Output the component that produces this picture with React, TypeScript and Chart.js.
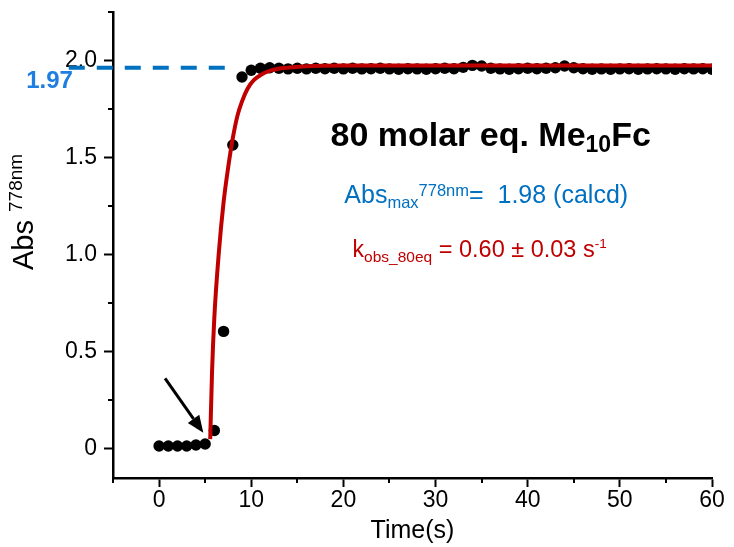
import { useEffect, useRef } from 'react';
import { Chart, registerables } from 'chart.js';

Chart.register(...registerables);

// ---- data ----
const times = [
  0, 1, 2, 3, 4, 5, 6, 7, 8, 9, 10, 11, 12, 13, 14, 15, 16, 17, 18, 19, 20,
  21, 22, 23, 24, 25, 26, 27, 28, 29, 30, 31, 32, 33, 34, 35, 36, 37, 38, 39, 40,
  41, 42, 43, 44, 45, 46, 47, 48, 49, 50, 51, 52, 53, 54, 55, 56, 57, 58, 59, 60,
];
const absValues = [
  0.015, 0.015, 0.015, 0.015, 0.02, 0.025, 0.095, 0.605, 1.565, 1.915, 1.95,
  1.96, 1.963, 1.96, 1.957, 1.96, 1.957, 1.96, 1.958, 1.96, 1.957,
  1.96, 1.957, 1.958, 1.96, 1.957, 1.955, 1.958, 1.957, 1.955, 1.958,
  1.96, 1.958, 1.965, 1.975, 1.972, 1.96, 1.957, 1.955, 1.958, 1.96,
  1.958, 1.96, 1.963, 1.972, 1.963, 1.958, 1.955, 1.957, 1.955, 1.957,
  1.958, 1.955, 1.957, 1.958, 1.957, 1.955, 1.958, 1.957, 1.958, 1.955,
];
const fitTimes = [5.55, 5.75, 6.0, 6.5, 7.0, 7.5, 8.0, 8.5, 9.0, 9.6, 10.3, 11.1, 12.0, 13.3, 16.0, 20.0, 60.0];
const fitValues = [0.05, 0.4, 0.68, 1.02, 1.27, 1.45, 1.6, 1.715, 1.79, 1.855, 1.9, 1.928, 1.947, 1.96, 1.971, 1.974, 1.974];
const refLevel = 1.963;
const refLineX = [-9.8, 8.0];
const refLabel = '1.97';
const xTickValues = [0, 10, 20, 30, 40, 50, 60];
const xMinorTicks = [-5, 5, 15, 25, 35, 45, 55];
const yTickValues = [0, 0.5, 1, 1.5, 2];
const yTickLabels = ['0', '0.5', '1.0', '1.5', '2.0'];
const yMinorTicks = [0.25, 0.75, 1.25, 1.75, 2.25];
const arrowFrom = { x: 0.65, y: 0.363 };
const arrowTo = { x: 4.8, y: 0.083 };
const xTitle = 'Time(s)';

const FONT = '"Liberation Sans", Arial, sans-serif';
const RED = '#C00000';
const BLUE = '#0070C0';

type Run = { text: string; size: number; bold?: boolean; dy?: number };

function drawRuns(ctx: CanvasRenderingContext2D, x: number, y: number, runs: Run[], color: string) {
  let cx = x;
  ctx.fillStyle = color;
  ctx.textAlign = 'left';
  ctx.textBaseline = 'alphabetic';
  for (const r of runs) {
    ctx.font = `${r.bold ? 'bold ' : ''}${r.size}px ${FONT}`;
    ctx.fillText(r.text, cx, y + (r.dy || 0));
    cx += ctx.measureText(r.text).width;
  }
}

const annotationPlugin = {
  id: 'annotations',
  afterDraw(chart: any) {
    const ctx: CanvasRenderingContext2D = chart.ctx;
    const xs = chart.scales.x;
    const ys = chart.scales.y;
    ctx.save();
    // minor ticks
    ctx.strokeStyle = '#000';
    ctx.lineWidth = 2;
    for (const v of xMinorTicks) {
      const px = Math.round(xs.getPixelForValue(v));
      ctx.beginPath();
      ctx.moveTo(px, xs.top);
      ctx.lineTo(px, xs.top + 5);
      ctx.stroke();
    }
    for (const v of yMinorTicks) {
      const py = Math.round(ys.getPixelForValue(v));
      ctx.beginPath();
      ctx.moveTo(ys.right, py);
      ctx.lineTo(ys.right - 5, py);
      ctx.stroke();
    }

    // arrow
    const ax0 = xs.getPixelForValue(arrowFrom.x);
    const ay0 = ys.getPixelForValue(arrowFrom.y);
    const ax1 = xs.getPixelForValue(arrowTo.x);
    const ay1 = ys.getPixelForValue(arrowTo.y);
    const ang = Math.atan2(ay1 - ay0, ax1 - ax0);
    const headLen = 17;
    const headW = 7;
    const bx = ax1 - headLen * Math.cos(ang);
    const by = ay1 - headLen * Math.sin(ang);
    ctx.lineWidth = 3;
    ctx.beginPath();
    ctx.moveTo(ax0, ay0);
    ctx.lineTo(bx, by);
    ctx.stroke();
    ctx.fillStyle = '#000';
    ctx.beginPath();
    ctx.moveTo(ax1, ay1);
    ctx.lineTo(bx + headW * Math.sin(ang), by - headW * Math.cos(ang));
    ctx.lineTo(bx - headW * Math.sin(ang), by + headW * Math.cos(ang));
    ctx.closePath();
    ctx.fill();

    // reference label
    ctx.font = `bold 24px ${FONT}`;
    ctx.fillStyle = '#1E7FE0';
    ctx.textAlign = 'right';
    ctx.textBaseline = 'alphabetic';
    ctx.fillText(refLabel, xs.getPixelForValue(-9.35), ys.getPixelForValue(refLevel) + 20);

    // title
    drawRuns(ctx, xs.getPixelForValue(18.6), ys.getPixelForValue(1.56), [
      { text: '80 molar eq. Me', size: 34, bold: true },
      { text: '10', size: 23, bold: true, dy: 6 },
      { text: 'Fc', size: 34, bold: true },
    ], '#000');

    drawRuns(ctx, xs.getPixelForValue(20.1), ys.getPixelForValue(1.265), [
      { text: 'Abs', size: 25 },
      { text: 'max', size: 16.5, dy: 5 },
      { text: '778nm', size: 16.5, dy: -7 },
      { text: '=  1.98 (calcd)', size: 25 },
    ], BLUE);

    drawRuns(ctx, xs.getPixelForValue(21.0), ys.getPixelForValue(0.99), [
      { text: 'k', size: 23 },
      { text: 'obs_80eq', size: 15.5, dy: 5 },
      { text: ' = 0.60 \u00B1 0.03 s', size: 23.5 },
      { text: '-1', size: 13.5, dy: -9 },
    ], RED);

    // y axis title (rotated)
    ctx.translate(33, 270);
    ctx.rotate(-Math.PI / 2);
    drawRuns(ctx, 0, 0, [
      { text: 'Abs ', size: 29 },
      { text: '778nm', size: 19, dy: -11 },
    ], '#000');
    ctx.restore();
  },
};

export default function App() {
  const canvasRef = useRef<HTMLCanvasElement | null>(null);

  useEffect(() => {
    if (!canvasRef.current) return;
    Chart.defaults.font.family = FONT;
    const chart = new Chart(canvasRef.current, {
      type: 'line',
      data: {
        datasets: [
          {
            label: 'fit',
            data: fitTimes.map((t, i) => ({ x: t, y: fitValues[i] })),
            borderColor: RED,
            borderWidth: 4,
            pointRadius: 0,
            cubicInterpolationMode: 'monotone',
            fill: false,
          },
          {
            label: 'data',
            data: times.map((t, i) => ({ x: t, y: absValues[i] })),
            showLine: false,
            pointRadius: 5.7,
            pointBackgroundColor: '#000',
            pointBorderWidth: 0,
            borderColor: '#000',
          },
          {
            label: 'ref',
            data: refLineX.map((t) => ({ x: t, y: refLevel })),
            borderColor: BLUE,
            borderWidth: 4,
            borderDash: [16, 12],
            pointRadius: 0,
            clip: false,
          } as any,
        ],
      },
      options: {
        animation: false,
        responsive: false,
        devicePixelRatio: 1,
        layout: { padding: { left: 0, right: 22, top: 12, bottom: 0 } },
        plugins: { legend: { display: false }, tooltip: { enabled: false } },
        scales: {
          x: {
            type: 'linear',
            min: -5,
            max: 60,
            afterBuildTicks: (axis: any) => {
              axis.ticks = xTickValues.map((v) => ({ value: v }));
            },
            afterFit: (axis: any) => {
              axis.height = 69;
              axis.paddingLeft = 0;
              axis.paddingRight = 0;
              axis.paddingTop = 0;
              axis.paddingBottom = 0;
            },
            grid: { drawOnChartArea: false, drawTicks: true, tickLength: 9, tickWidth: 2, tickColor: '#000' },
            border: { color: '#000', width: 2.5 },
            ticks: { color: '#000', font: { size: 23, family: FONT }, padding: 0, maxRotation: 0 },
            title: { display: true, text: xTitle, color: '#000', font: { size: 25, family: FONT }, padding: { top: 0, bottom: 1 } },
          },
          y: {
            type: 'linear',
            min: -0.15,
            max: 2.25,
            afterBuildTicks: (axis: any) => {
              axis.ticks = yTickValues.map((v) => ({ value: v }));
            },
            afterFit: (axis: any) => {
              axis.width = 113;
              axis.paddingLeft = 0;
              axis.paddingRight = 0;
              axis.paddingTop = 0;
              axis.paddingBottom = 0;
            },
            grid: { drawOnChartArea: false, drawTicks: true, tickLength: 9, tickWidth: 2, tickColor: '#000' },
            border: { color: '#000', width: 2.5 },
            ticks: {
              color: '#000',
              font: { size: 23, family: FONT },
              padding: 7,
              callback: (v: any) => {
                const i = yTickValues.indexOf(Number(v));
                return i >= 0 ? yTickLabels[i] : '';
              },
            },
          },
        },
      },
      plugins: [annotationPlugin],
    } as any);
    return () => chart.destroy();
  }, []);

  return (
    <div style={{ position: 'absolute', left: 0, top: 0, width: 734, height: 547, background: '#fff' }}>
      <canvas ref={canvasRef} width={734} height={547} />
    </div>
  );
}
